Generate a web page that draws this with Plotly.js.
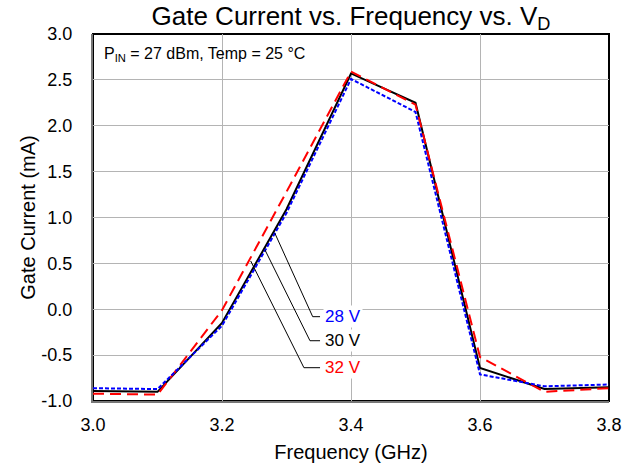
<!DOCTYPE html>
<html>
<head>
<meta charset="utf-8">
<script src="https://cdn.plot.ly/plotly-3.0.1.min.js"></script>
<style>html,body{margin:0;padding:0;background:#fff;}#chart{width:637px;height:465px;}</style>
</head>
<body>
<div id="chart"></div>
<script>
// Data
var freq = [3.0, 3.1, 3.2, 3.3, 3.4, 3.5, 3.6, 3.7, 3.8];
var i28V = [-0.86, -0.87, -0.18, 1.05, 2.51, 2.15, -0.71, -0.84, -0.82];
var i30V = [-0.89, -0.90, -0.15, 1.09, 2.57, 2.25, -0.64, -0.87, -0.85];
var i32V = [-0.92, -0.93, -0.01, 1.28, 2.59, 2.23, -0.52, -0.90, -0.86];
var seriesNames = ['28 V', '30 V', '32 V'];
var seriesColors = ['#0000ff', '#000000', '#ff0000'];
var xTicks = [3.0, 3.2, 3.4, 3.6, 3.8];
var xTickText = ['3.0', '3.2', '3.4', '3.6', '3.8'];
var yTicks = [-1, -0.5, 0, 0.5, 1, 1.5, 2, 2.5, 3];
var yTickText = ['-1.0', '-0.5', '0.0', '0.5', '1.0', '1.5', '2.0', '2.5', '3.0'];
// leader lines: [pointX, pointY, elbowX, elbowY, endX]
var leaders = [
  [3.282, 0.828, 3.3406, -0.081, 3.352],
  [3.2667, 0.646, 3.3364, -0.343, 3.352],
  [3.2445, 0.526, 3.327, -0.637, 3.352]
];
var labelX = 3.357;

var font = 'Liberation Sans, Arial, sans-serif';
var traces = [
  {x: freq, y: i30V, mode: 'lines', line: {color: seriesColors[1], width: 2}, name: seriesNames[1]},
  {x: freq, y: i32V, mode: 'lines', line: {color: seriesColors[2], width: 2, dash: '11px,6px'}, name: seriesNames[2]},
  {x: freq, y: i28V, mode: 'lines', line: {color: seriesColors[0], width: 2, dash: '4px,2px'}, name: seriesNames[0]}
];

var shapes = [{type: 'rect', xref: 'paper', yref: 'paper', x0: 0, x1: 1, y0: 0, y1: 1,
  line: {color: '#000', width: 2}, layer: 'below'}];
var annotations = [{
  xref: 'paper', yref: 'paper', x: 0.018, y: 0.975, xanchor: 'left', yanchor: 'top',
  text: 'P<sub>IN</sub> = 27 dBm, Temp = 25 °C', showarrow: false,
  font: {family: font, size: 16, color: '#000'}
}];
leaders.forEach(function(l, i) {
  shapes.push({type: 'path', xref: 'x', yref: 'y',
    path: 'M' + l[0] + ',' + l[1] + ' L' + l[2] + ',' + l[3] + ' L' + l[4] + ',' + l[3],
    line: {color: '#000', width: 1}, layer: 'above'});
  annotations.push({xref: 'x', yref: 'y', x: labelX, y: l[3], xanchor: 'left', yanchor: 'middle',
    text: seriesNames[i], showarrow: false, bgcolor: '#fff',
    font: {family: font, size: 17, color: seriesColors[i]}});
});

var layout = {
  width: 637, height: 465,
  margin: {l: 93, r: 28, t: 34, b: 64},
  paper_bgcolor: '#fff', plot_bgcolor: '#fff',
  showlegend: false,
  font: {family: font, size: 18, color: '#000'},
  title: {text: 'Gate Current vs. Frequency vs. V<sub>D</sub>', xref: 'paper', x: 0.5, xanchor: 'center',
    yref: 'paper', y: 1, yanchor: 'bottom', pad: {b: 9},
    font: {family: font, size: 26, color: '#000'}},
  xaxis: {range: [3.0, 3.8], tickvals: xTicks, ticktext: xTickText,
    showgrid: true, gridcolor: '#b4b4b4', gridwidth: 1, zeroline: false,
    showline: true, linecolor: '#777', linewidth: 2, ticks: 'outside', ticklen: 6, tickcolor: 'rgba(0,0,0,0)',
    tickfont: {family: font, size: 18}, title: {text: 'Frequency (GHz)', font: {family: font, size: 20}, standoff: 11}},
  yaxis: {range: [-1.0, 3.0], tickvals: yTicks, ticktext: yTickText,
    showgrid: true, gridcolor: '#b4b4b4', gridwidth: 1, zeroline: false,
    showline: true, linecolor: '#777', linewidth: 2, ticks: 'outside', ticklen: 15, tickcolor: 'rgba(0,0,0,0)',
    tickfont: {family: font, size: 18}, title: {text: 'Gate Current (mA)', font: {family: font, size: 20}, standoff: 0}},
  shapes: shapes,
  annotations: annotations
};
Plotly.newPlot('chart', traces, layout, {displayModeBar: false, staticPlot: true});
</script>
</body>
</html>
